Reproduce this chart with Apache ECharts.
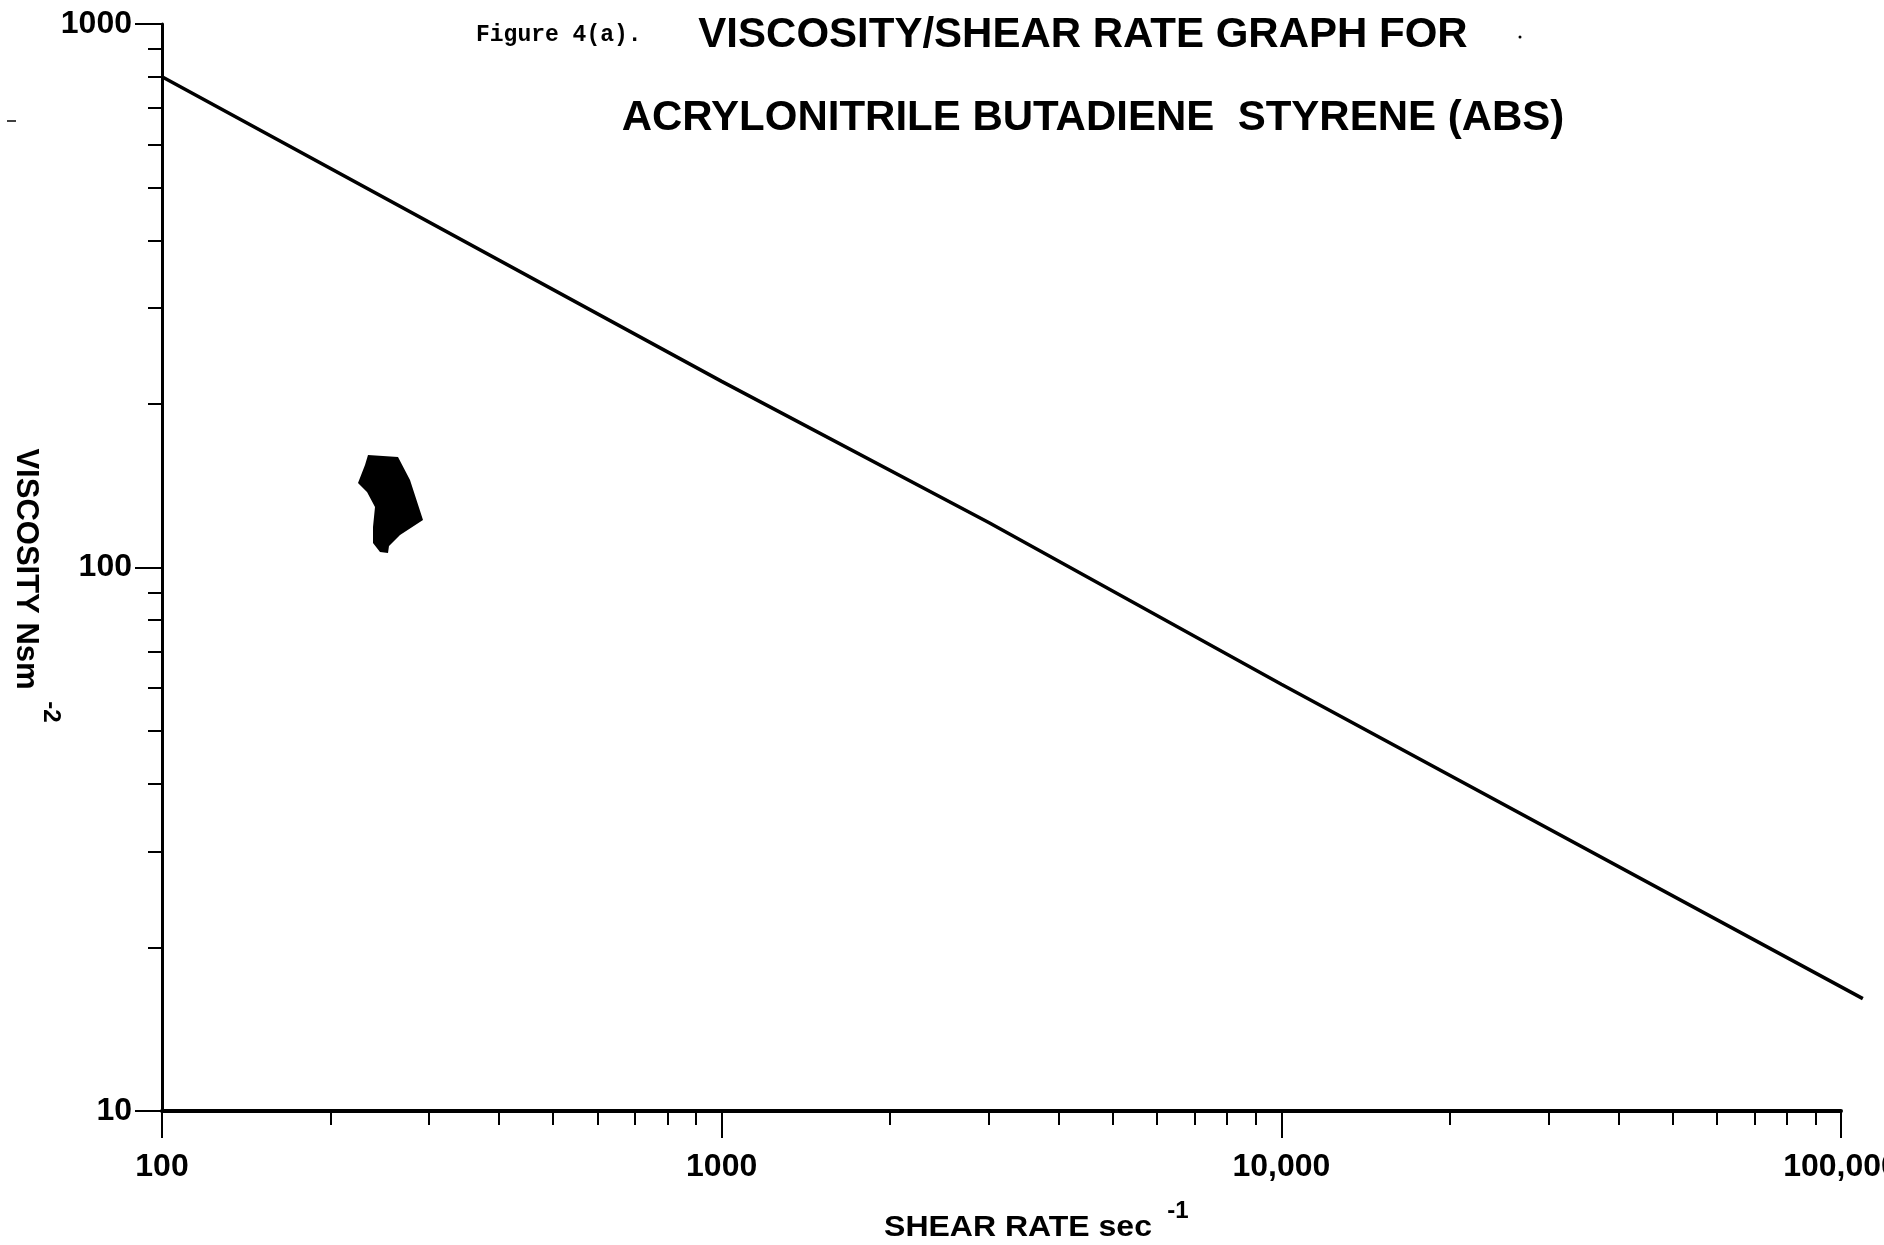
<!DOCTYPE html>
<html>
<head>
<meta charset="utf-8">
<title>Viscosity / Shear Rate Graph for ABS</title>
<script src="https://cdn.jsdelivr.net/npm/echarts@6/dist/echarts.min.js"></script>
<style>
  html, body { margin: 0; padding: 0; background: #fff; }
  #chart { width: 1884px; height: 1245px; }
</style>
</head>
<body>
<div id="chart"></div>
<script>
// values (log-log paper)
const shearRate = [100, 1000, 3000, 10000, 109400]
const viscosity = [800, 220, 121, 61, 16.1]

const xTicks = [100, 1000, 10000, 100000]
const xTickText = ['100', '1000', '10,000', '100,000']
const yTicks = [10, 100, 1000]
const yTickText = ['10', '100', '1000']

const FONT = "'Liberation Sans', Arial, sans-serif"
const MONO = "'Liberation Mono', 'DejaVu Sans Mono', monospace"

const W = 1884
const gridLeft = 162
const gridRight = 43
// the drawn curve runs a little past the 100,000 end of the axis,
// so it sits on a second, invisible grid with the same scale but wider
const lineRight = 21
const lineMaxX = Math.pow(10, 2 + 3 * (W - gridLeft - lineRight) / (W - gridLeft - gridRight))

const lookup = (ticks, texts) => v => {
  const i = ticks.findIndex(t => Math.abs(t - v) / t < 1e-6)
  return i < 0 ? '' : texts[i]
}

const axisCommon = {
  type: 'log',
  logBase: 10,
  splitLine: { show: false },
  minorSplitLine: { show: false },
  axisLine: { show: true, lineStyle: { color: '#000', width: 3 } },
  axisTick: { show: true, inside: false, length: 27, lineStyle: { color: '#000', width: 2 } },
  minorTick: { show: true, splitNumber: 9, length: 14, lineStyle: { color: '#000', width: 2 } },
  axisLabel: { color: '#000', fontFamily: FONT, fontWeight: 'bold', fontSize: 32 }
}

const label = (text, x, y, size, extra) => Object.assign({
  type: 'text', x: x, y: y,
  style: { text: text, font: 'bold ' + size + 'px ' + FONT, fill: '#000', textAlign: 'center', textVerticalAlign: 'middle' }
}, extra)

const chart = echarts.init(document.getElementById('chart'), null, { renderer: 'canvas' })

const option = {
  backgroundColor: '#fff',
  animation: false,
  grid: [
    { left: gridLeft, right: gridRight, top: 24, bottom: 134, containLabel: false, outerBoundsMode: 'none' },
    { left: gridLeft, right: lineRight, top: 24, bottom: 134, containLabel: false, outerBoundsMode: 'none' }
  ],
  xAxis: [
    {
      ...axisCommon,
      gridIndex: 0,
      min: 100,
      max: 100000,
      axisLine: { show: true, lineStyle: { color: '#000', width: 4 } },
      axisLabel: { ...axisCommon.axisLabel, margin: 40, formatter: lookup(xTicks, xTickText) }
    },
    { type: 'log', gridIndex: 1, min: 100, max: lineMaxX, show: false }
  ],
  yAxis: [
    {
      ...axisCommon,
      gridIndex: 0,
      min: 10,
      max: 1000,
      axisLabel: { ...axisCommon.axisLabel, margin: 30, formatter: lookup(yTicks, yTickText) }
    },
    { type: 'log', gridIndex: 1, min: 10, max: 1000, show: false }
  ],
  series: [{
    type: 'line',
    xAxisIndex: 1,
    yAxisIndex: 1,
    data: shearRate.map((x, i) => [x, viscosity[i]]),
    symbol: 'none',
    clip: false,
    lineStyle: { color: '#000', width: 3.5 }
  }],
  graphic: [
    {
      type: 'text', x: 476, y: 35,
      style: { text: 'Figure 4(a).', font: 'bold 23px ' + MONO, fill: '#000', textVerticalAlign: 'middle' }
    },
    label('VISCOSITY/SHEAR RATE GRAPH FOR', 1083, 35, 42),
    label('ACRYLONITRILE BUTADIENE  STYRENE (ABS)', 1093, 118, 42),
    label('SHEAR RATE sec', 1018, 1228, 32, { scaleY: 0.92 }),
    label('-1', 1178, 1211, 24),
    label('VISCOSITY Nsm', 26, 569, 31, { rotation: -Math.PI / 2 }),
    label('-2', 51, 712, 24, { rotation: -Math.PI / 2 }),
    // ink blot and specks from the scanned sheet
    {
      type: 'polygon',
      shape: { points: [[368, 455], [398, 457], [410, 480], [423, 520], [400, 535], [389, 546], [388, 553], [380, 552], [373, 543], [373, 527], [375, 507], [367, 492], [358, 483], [365, 465]] },
      style: { fill: '#000' }
    },
    { type: 'circle', shape: { cx: 1520, cy: 37, r: 1.5 }, style: { fill: '#000' } },
    { type: 'line', shape: { x1: 7, y1: 121, x2: 16, y2: 121 }, style: { stroke: '#000', lineWidth: 1.5 } }
  ]
}

chart.setOption(option)
</script>
</body>
</html>
